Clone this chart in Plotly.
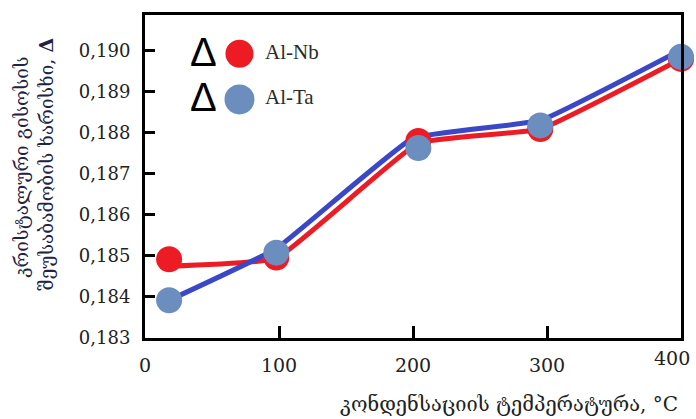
import plotly.graph_objects as go

# ---- data ----
nb_x = [18, 98, 204, 295, 400]
nb_y = [0.18492, 0.18496, 0.18780, 0.18809, 0.18980]
ta_x = [18, 98, 204, 295, 400]
ta_y = [0.18392, 0.18508, 0.18763, 0.18818, 0.18985]

nb_line_x = [18, 98, 204, 295, 400]
nb_line_y = [0.18475, 0.18494, 0.18775, 0.18809, 0.18980]
ta_line_x = [18, 98, 200, 295, 400]
ta_line_y = [0.18392, 0.18518, 0.18787, 0.18830, 0.19002]

x_ticks = [0, 100, 200, 300, 400]
y_ticks = [0.183, 0.184, 0.185, 0.186, 0.187, 0.188, 0.189, 0.190]

series_names = ["Al-Nb", "Al-Ta"]
x_title = "კონდენსაციის ტემპერატურა, °C"
y_title_1 = "კრისტალური გისოსის"
y_title_2 = "შეუსაბამობის ხარისხი, <b>Δ</b>"

RED = "#ED1C24"
BLUE_LINE = "#3A48C8"
BLUE_MK = "#6C8EBF"

fig = go.Figure()
fig.add_trace(go.Scatter(x=nb_line_x, y=nb_line_y, mode="lines",
                         line=dict(color=RED, width=5, shape="spline", smoothing=0.3),
                         showlegend=False, hoverinfo="skip"))
fig.add_trace(go.Scatter(x=ta_line_x, y=ta_line_y, mode="lines",
                         line=dict(color=BLUE_LINE, width=5, shape="spline", smoothing=0.3),
                         showlegend=False, hoverinfo="skip"))
fig.add_trace(go.Scatter(x=nb_x, y=nb_y, mode="markers", name=series_names[0],
                         marker=dict(color=RED, size=26, line=dict(width=0)),
                         cliponaxis=False, showlegend=False))
fig.add_trace(go.Scatter(x=ta_x, y=ta_y, mode="markers", name=series_names[1],
                         marker=dict(color=BLUE_MK, size=26, line=dict(width=0)),
                         cliponaxis=False, showlegend=False))

L, R, T, B = 145, 12, 13, 81
W, H = 696, 419
pw, ph = W - L - R, H - T - B

def px(xp):
    return (xp - L) / pw

def py(yp):
    return (H - B - yp) / ph

shapes = []
for (cx, cy, r, col) in [(240, 52, 14, RED), (240, 98, 15, BLUE_MK)]:
    shapes.append(dict(type="circle", xref="paper", yref="paper",
                       xsizemode="pixel", ysizemode="pixel",
                       xanchor=px(cx), yanchor=py(cy),
                       x0=-r, x1=r, y0=-r, y1=r,
                       fillcolor=col, line=dict(width=0)))

annotations = []
for (cy, name) in [(50, series_names[0]), (96, series_names[1])]:
    annotations.append(dict(x=px(204), y=py(cy), xref="paper", yref="paper",
                            text="Δ", showarrow=False,
                            font=dict(family="Liberation Sans", size=40, color="black"),
                            xanchor="center", yanchor="middle"))
    annotations.append(dict(x=px(264), y=py(cy), xref="paper", yref="paper",
                            text=name, showarrow=False,
                            font=dict(family="Liberation Serif", size=21, color="#2a2a2a"),
                            xanchor="left", yanchor="middle"))

# last x tick label sits shifted left/up at the right edge in the original
annotations.append(dict(x=x_ticks[-1], y=py(358), xref="x", yref="paper",
                        text=str(x_ticks[-1]), showarrow=False, xshift=11,
                        font=dict(family="DejaVu Serif", size=19, color="#222222"),
                        xanchor="right", yanchor="middle"))

annotations.append(dict(x=px(683), y=py(404), xref="paper", yref="paper",
                        text=x_title, showarrow=False,
                        font=dict(family="DejaVu Serif", size=20, color="#222222"),
                        xanchor="right", yanchor="middle"))
annotations.append(dict(x=px(20), y=py(166), xref="paper", yref="paper",
                        text=y_title_1, showarrow=False, textangle=-90,
                        font=dict(family="DejaVu Serif", size=19, color="#222244"),
                        xanchor="center", yanchor="middle"))
annotations.append(dict(x=px(46), y=py(163), xref="paper", yref="paper",
                        text=y_title_2, showarrow=False, textangle=-90,
                        font=dict(family="DejaVu Serif", size=19, color="#222244"),
                        xanchor="center", yanchor="middle"))

fig.update_layout(
    width=W, height=H,
    margin=dict(l=L, r=R, t=T, b=B, pad=0),
    paper_bgcolor="white", plot_bgcolor="white",
    separators=", ",
    shapes=shapes, annotations=annotations,
    showlegend=False,
)
fig.update_xaxes(range=[0, 400], tickvals=x_ticks[:-1], showgrid=False, zeroline=False,
                 showline=True, linecolor="black", linewidth=3, mirror=True,
                 ticks="inside", ticklen=12, tickwidth=3, tickcolor="black",
                 ticklabelstandoff=8,
                 tickfont=dict(family="DejaVu Serif", size=19, color="#222222"))
fig.update_yaxes(range=[0.183, 0.19087], tickvals=y_ticks, tickformat=".3f",
                 showgrid=False, zeroline=False,
                 showline=True, linecolor="black", linewidth=3, mirror=True,
                 ticks="inside", ticklen=10, tickwidth=3, tickcolor="black",
                 ticklabelstandoff=8,
                 tickfont=dict(family="DejaVu Serif", size=18, color="#222222"))

fig.write_html("out.html")
